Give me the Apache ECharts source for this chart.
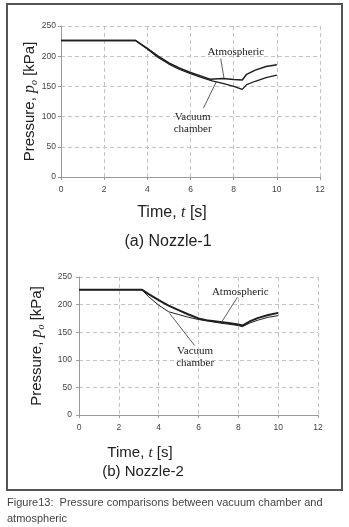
<!DOCTYPE html>
<html>
<head>
<meta charset="utf-8">
<script src="https://cdn.jsdelivr.net/npm/echarts@6/dist/echarts.min.js"></script>
<style>
  html, body { margin: 0; padding: 0; background: #fff; }
  #main { width: 349px; height: 527px; }
</style>
</head>
<body>
<div id="main"></div>
<script>
  // (a) Nozzle-1
  var n1AtmT = [0, 3.45, 4, 4.5, 5, 5.5, 6, 6.5, 6.9, 6.98, 7.5, 8, 8.4, 8.6, 9, 9.5, 10];
  var n1AtmP = [226, 226, 213, 200, 189, 180, 173, 167, 162, 165, 163, 161.5, 160.5, 170, 177, 183, 186];
  var n1VacT = [0, 3.45, 4, 4.5, 5, 5.5, 6, 6.5, 7, 7.5, 8, 8.4, 8.6, 9, 9.5, 10];
  var n1VacP = [226, 226, 212, 198, 187, 178, 171, 165, 159, 155, 150, 145, 153, 158.5, 164.5, 168.5];

  // (b) Nozzle-2
  var n2AtmT = [0, 3.15, 3.5, 4, 4.5, 5, 5.5, 6, 6.5, 7, 7.5, 8, 8.2, 8.6, 9, 9.5, 10];
  var n2AtmP = [227, 227, 219, 208, 198, 190, 182, 175, 171, 169, 166.5, 164, 162, 170, 176, 181, 185];
  var n2VacT = [0, 3.15, 3.5, 4, 4.5, 5, 5.5, 6, 6.5, 7, 7.5, 8, 8.2, 8.6, 9, 9.5, 10];
  var n2VacP = [227, 227, 214, 199, 187, 182, 177, 173, 170, 167, 164.5, 162, 160, 167, 172, 177, 180];

  // tick values
  var xTicks = [0, 2, 4, 6, 8, 10, 12];
  var yTicks = [0, 50, 100, 150, 200, 250];

  // annotation text anchors and leader lines, in data units [t, p]
  var n1AtmLabel = [8.1, 207];
  var n1AtmLeader = [[7.4, 196], [7.55, 164]];
  var n1VacLabel = [6.1, 89];
  var n1VacLeader = [[6.6, 114], [7.2, 158]];
  var n2AtmLabel = [8.1, 222];
  var n2AtmLeader = [[7.95, 213], [7.17, 169]];
  var n2VacLabel = [5.83, 104];
  var n2VacLeader = [[5.8, 126], [4.55, 184]];

  function pairs(t, p) {
    var out = [];
    for (var i = 0; i < t.length; i++) out.push([t[i], p[i]]);
    return out;
  }

  var tickFont = { fontFamily: 'Liberation Sans', fontSize: 8.5, color: '#444' };
  var dash = { color: '#c4c4c4', type: [4, 3], width: 1 };

  function xAx(idx) {
    return {
      gridIndex: idx, type: 'value',
      min: xTicks[0], max: xTicks[xTicks.length - 1], interval: xTicks[1] - xTicks[0],
      axisLine: { show: true, lineStyle: { color: '#9a9a9a' } },
      axisTick: { show: true, length: 3, lineStyle: { color: '#9a9a9a' } },
      axisLabel: Object.assign({ margin: 8 }, tickFont),
      splitLine: { show: true, lineStyle: dash }
    };
  }
  function yAx(idx, gap, size, lblMargin) {
    return {
      gridIndex: idx, type: 'value',
      min: yTicks[0], max: yTicks[yTicks.length - 1], interval: yTicks[1] - yTicks[0],
      axisLine: { show: true, lineStyle: { color: '#9a9a9a' } },
      axisTick: { show: true, length: 3, lineStyle: { color: '#9a9a9a' } },
      axisLabel: Object.assign({ margin: lblMargin }, tickFont),
      splitLine: { show: true, lineStyle: dash },
      name: 'Pressure, {i|p}{s|o} [kPa]',
      nameLocation: 'middle',
      nameGap: gap,
      nameMoveOverlap: false,
      nameTextStyle: {
        fontFamily: 'Liberation Sans', fontSize: size, color: '#222',
        rich: {
          i: { fontFamily: 'Liberation Serif', fontStyle: 'italic', fontSize: size + 1, color: '#222' },
          s: { fontFamily: 'Liberation Serif', fontStyle: 'italic', fontSize: size - 5, color: '#222', padding: [8, 0, 0, 0] }
        }
      }
    };
  }

  function note(xy, text) {
    return {
      coord: xy, value: text, symbol: 'rect', symbolSize: 1,
      itemStyle: { color: 'transparent' },
      label: {
        show: true, position: 'inside', formatter: text,
        fontFamily: 'Liberation Serif', fontSize: 11, color: '#222', lineHeight: 12
      }
    };
  }
  function leader(seg) {
    return [{ coord: seg[0] }, { coord: seg[1] }];
  }

  function lineSeries(idx, data, width, notes, leaders) {
    return {
      type: 'line', xAxisIndex: idx, yAxisIndex: idx,
      data: data, symbol: 'none', smooth: false,
      lineStyle: { color: '#1e1e1e', width: width },
      markPoint: { silent: true, data: notes, animation: false },
      markLine: {
        silent: true, symbol: ['none', 'none'], animation: false,
        label: { show: false },
        lineStyle: { color: '#333', width: 0.8, type: 'solid' },
        data: leaders
      },
      animation: false
    };
  }

  var chart = echarts.init(document.getElementById('main'));
  chart.setOption({
    backgroundColor: '#fff',
    grid: [
      { left: 61, top: 26, width: 259, height: 151 },
      { left: 79, top: 277, width: 239, height: 138 }
    ],
    xAxis: [xAx(0), xAx(1)],
    yAxis: [yAx(0, 22, 15, 5), yAx(1, 33, 15, 7)],
    series: [
      lineSeries(0, pairs(n1AtmT, n1AtmP), 1.5, [note(n1AtmLabel, 'Atmospheric')], [leader(n1AtmLeader)]),
      lineSeries(0, pairs(n1VacT, n1VacP), 1.3, [note(n1VacLabel, 'Vacuum\nchamber')], [leader(n1VacLeader)]),
      lineSeries(1, pairs(n2AtmT, n2AtmP), 2, [note(n2AtmLabel, 'Atmospheric')], [leader(n2AtmLeader)]),
      lineSeries(1, pairs(n2VacT, n2VacP), 1, [note(n2VacLabel, 'Vacuum\nchamber')], [leader(n2VacLeader)])
    ],
    graphic: [
      { type: 'rect', shape: { x: 7, y: 4, width: 335, height: 486 }, style: { fill: 'none', stroke: '#555', lineWidth: 2 } },
      { type: 'text', x: 172, y: 213, style: { text: 'Time, {i|t} [s]', align: 'center', verticalAlign: 'middle',
        fontFamily: 'Liberation Sans', fontSize: 16, fill: '#222',
        rich: { i: { fontFamily: 'Liberation Serif', fontStyle: 'italic', fontSize: 16 } } } },
      { type: 'text', x: 168, y: 242, style: { text: '(a) Nozzle-1', align: 'center', verticalAlign: 'middle',
        fontFamily: 'Liberation Sans', fontSize: 16, fill: '#222' } },
      { type: 'text', x: 140, y: 453, style: { text: 'Time, {i|t} [s]', align: 'center', verticalAlign: 'middle',
        fontFamily: 'Liberation Sans', fontSize: 15, fill: '#222',
        rich: { i: { fontFamily: 'Liberation Serif', fontStyle: 'italic', fontSize: 15 } } } },
      { type: 'text', x: 143, y: 472, style: { text: '(b) Nozzle-2', align: 'center', verticalAlign: 'middle',
        fontFamily: 'Liberation Sans', fontSize: 15, fill: '#222' } },
      { type: 'text', x: 7, y: 503, style: { text: 'Figure13:  Pressure comparisons between vacuum chamber and',
        verticalAlign: 'middle', fontFamily: 'Liberation Sans', fontSize: 11, fill: '#444' } },
      { type: 'text', x: 7, y: 519, style: { text: 'atmospheric',
        verticalAlign: 'middle', fontFamily: 'Liberation Sans', fontSize: 11, fill: '#444' } }
    ]
  });
</script>
</body>
</html>
